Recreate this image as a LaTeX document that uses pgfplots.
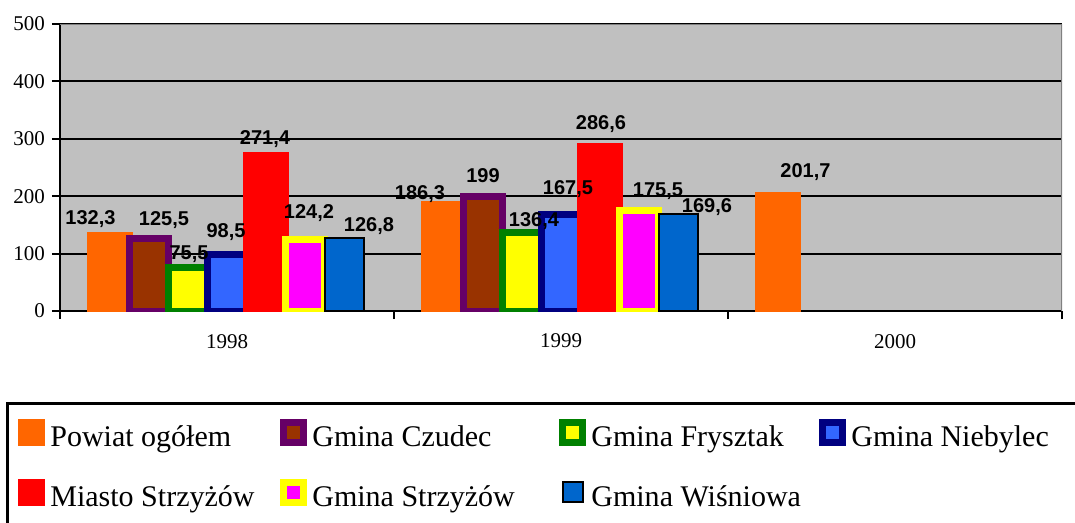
\documentclass[border=0pt]{standalone}
\usepackage{fontspec}
\setmainfont{Liberation Serif}
\newfontfamily\arialfont{Liberation Sans}
\usepackage{pgfplots}
\usepackage{pgfplotstable}
\pgfplotsset{compat=1.18}
\definecolor{plotgray}{HTML}{C0C0C0}
\definecolor{bordergray}{HTML}{808080}
\definecolor{cOrange}{HTML}{FF6600}
\definecolor{cPurple}{HTML}{660066}
\definecolor{cBrown}{HTML}{993300}
\definecolor{cGreen}{HTML}{008000}
\definecolor{cYellow}{HTML}{FFFF00}
\definecolor{cNavy}{HTML}{000080}
\definecolor{cLightBlue}{HTML}{3366FF}
\definecolor{cRed}{HTML}{FF0000}
\definecolor{cMagenta}{HTML}{FF00FF}
\definecolor{cBlue}{HTML}{0066CC}

\pgfplotstableread{
x y dx dy
0 132.3 -19.2 16.1
1 186.3 -23.7 10.1
2 201.7 27.8 23.5
}\tPowiat
\pgfplotstableread{
x y dx dy
0 125.5 15.2 19
1 199 0.2 20.8
}\tCzudec
\pgfplotstableread{
x y dx dy
0 75.5 1.1 13.7
1 136.4 12.1 12
}\tFrysztak
\pgfplotstableread{
x y dx dy
0 98.5 -1 22.5
1 167.5 7 25.9
}\tNiebylec
\pgfplotstableread{
x y dx dy
0 271.4 -1.1 16.2
1 286.6 0.9 22.5
}\tMiasto
\pgfplotstableread{
x y dx dy
0 124.2 3.8 26.7
1 175.5 18.8 18.6
}\tGStrz
\pgfplotstableread{
x y dx dy
0 126.8 24.7 12.2
1 169.6 28.7 6.6
}\tWisn

\pgfplotsset{
  sqlegend/.style={legend image code/.code={\draw[##1] (0pt,-3.6pt) rectangle (10pt,6.4pt);}},
  lbl/.style={
    nodes near coords,
    visualization depends on={\thisrow{dx} \as \dx},
    visualization depends on={\thisrow{dy} \as \dy},
    nodes near coords style={anchor=center, xshift=\dx*0.5pt, yshift=\dy*0.5pt,
       font=\arialfont\bfseries\fontsize{10}{12}\selectfont, inner sep=0pt, text=black},
  },
}

\begin{document}
\begin{tikzpicture}
\begin{axis}[
  at={(30pt,-155.5pt)}, anchor=south west,
  width=501pt, height=143.5pt, scale only axis,
  xmin=-0.5, xmax=2.5, ymin=0, ymax=500,
  enlargelimits=false,
  axis background/.style={fill=plotgray},
  axis x line*=bottom, axis y line*=left,
  axis line style={line width=1pt, -},
  ytick={0,100,...,500},
  ymajorgrids, major grid style={black, line width=1pt},
  xtick={-0.5,0.5,1.5,2.5}, xticklabels={,,,},
  extra x ticks={0,1,2}, extra x tick labels={1998,1999,2000},
  extra x tick style={major tick length=0pt, xticklabel style={yshift=-8pt}},
  tick align=outside, major tick length=4pt,
  tick style={black, line width=1pt},
  ticklabel style={font=\fontsize{10.5}{12}\selectfont},
  /pgf/number format/assume math mode=true,
  /pgf/number format/use comma,
  /pgf/number format/1000 sep={},
  ybar,
  legend columns=4,
  legend style={at={(axis description cs:-0.0479,-0.362)}, anchor=north west,
     draw=none, fill=none, column sep=0pt, row sep=14.5pt,
     nodes={inner sep=0pt}, font=\fontsize{15}{18}\selectfont},
  legend cell align=left,
]
\addplot[ybar, bar width=19.5pt, bar shift=-58.65pt, fill=cOrange, draw=cOrange, line width=3.5pt, sqlegend, lbl]
  table[x=x,y=y] {\tPowiat};
\addlegendentry{\strut\hspace*{2.5pt}\makebox[115pt][l]{Powiat ogółem}}
\addplot[ybar, bar width=19.5pt, bar shift=-39.1pt, fill=cBrown, draw=cPurple, line width=3.5pt, sqlegend, lbl]
  table[x=x,y=y] {\tCzudec};
\addlegendentry{\strut\hspace*{2.5pt}\makebox[123.5pt][l]{Gmina Czudec}}
\addplot[ybar, bar width=19.5pt, bar shift=-19.55pt, fill=cYellow, draw=cGreen, line width=3.5pt, sqlegend, lbl]
  table[x=x,y=y] {\tFrysztak};
\addlegendentry{\strut\hspace*{2.5pt}\makebox[114pt][l]{Gmina Frysztak}}
\addplot[ybar, bar width=19.5pt, bar shift=0pt, fill=cLightBlue, draw=cNavy, line width=3.5pt, sqlegend, lbl]
  table[x=x,y=y] {\tNiebylec};
\addlegendentry{\strut\hspace*{2.5pt}Gmina Niebylec}
\addplot[ybar, bar width=19.5pt, bar shift=19.55pt, fill=cRed, draw=cRed, line width=3.5pt, sqlegend, lbl]
  table[x=x,y=y] {\tMiasto};
\addlegendentry{\strut\hspace*{2.5pt}\makebox[115pt][l]{Miasto Strzyżów}}
\addplot[ybar, bar width=19.5pt, bar shift=39.1pt, fill=cMagenta, draw=cYellow, line width=3.5pt, sqlegend, lbl]
  table[x=x,y=y] {\tGStrz};
\addlegendentry{\strut\hspace*{2.5pt}\makebox[123.5pt][l]{Gmina Strzyżów}}
\addplot[ybar, bar width=19.5pt, bar shift=58.65pt, fill=cBlue, draw=black, line width=1pt, sqlegend, lbl]
  table[x=x,y=y] {\tWisn};
\addlegendentry{\strut\hspace*{2.5pt}\makebox[114pt][l]{Gmina Wiśniowa}}
\draw[bordergray, line width=1pt] (rel axis cs:0,1) -- (rel axis cs:1,1) -- (rel axis cs:1,0);
\end{axis}
\draw[line width=1.3pt] (3.65pt,-201.65pt) rectangle (560pt,-290pt);
\pgfresetboundingbox
\path[use as bounding box] (0pt,0pt) rectangle (537.5pt,-261.5pt);
\end{tikzpicture}
\end{document}
